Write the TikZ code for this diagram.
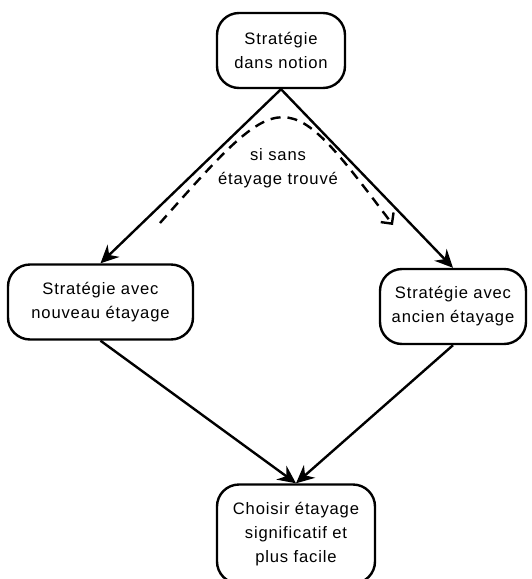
\documentclass[tikz,border=0pt]{standalone}
\usepackage{fontspec}
\setmainfont{Liberation Sans}[LetterSpace=5]
\usepackage{tikz}
\usetikzlibrary{arrows.meta}
\tikzset{
  % rounded boxes of the flow
  etape/.style={draw=black, line width=2.4pt, rounded corners=22pt,
    align=center, inner sep=0pt, minimum height=75pt,
    font=\fontsize{16.6pt}{24pt}\selectfont},
  % solid connectors
  fleche/.style={line width=2.4pt, -{Stealth[length=18pt,width=17pt,inset=6pt]}},
  % dashed path with open tip
  pointille/.style={line width=2.4pt, dash pattern=on 10pt off 7pt,
    -{Straight Barb[length=8pt,width=16pt,line width=2.4pt]}},
}

\begin{document}
\begin{tikzpicture}[x=1pt,y=-1pt]
\useasboundingbox (0,0) rectangle (531,579);
\node[etape, minimum width=128pt] (notion) at (281,50.5) {Stratégie\\dans notion};
\node[etape, minimum width=185pt] (nouveau) at (100.5,302) {Stratégie avec\\nouveau étayage};
\node[etape, minimum width=146pt] (ancien) at (453,306.5) {Stratégie avec\\ancien étayage};
\node[etape, minimum width=158pt, minimum height=99pt] (choisir) at (296,534) {Choisir étayage\\significatif et\\plus facile};
 \draw[fleche] (notion.south) -- (nouveau.north);
 \draw[fleche] (notion.south) -- (ancien.north);
 \draw[fleche] (nouveau.south) -- (choisir.north);
 \draw[fleche] (ancien.south) -- (choisir.north);
\coordinate (debut) at (160,223);
\coordinate (fin) at (393,225);
 \draw[pointille] (debut) .. controls (285,82) and (285,82) .. (fin);
\node[font=\fontsize{16.6pt}{24pt}\selectfont, align=center] (condition) at (278,168) {si sans\\étayage trouvé};
\end{tikzpicture}
\end{document}
